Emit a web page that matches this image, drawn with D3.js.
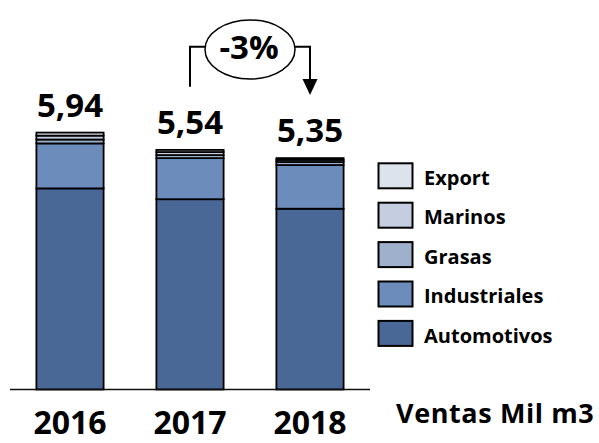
<!DOCTYPE html>
<html>
<head>
<meta charset="utf-8">
<script src="https://cdn.jsdelivr.net/npm/d3@7"></script>
<style>
  body { margin: 0; background: #fff; }
  text { font-family: "Open Sans", sans-serif; font-weight: bold; fill: #000; }
</style>
</head>
<body>
<main></main>
<script>
const years = ["2016", "2017", "2018"];
const automotivos = [4.65, 4.40, 4.18];
const industriales = [1.04, 0.95, 1.01];
const grasas = [0.09, 0.07, 0.07];
const marinos = [0.09, 0.07, 0.05];
const exportes = [0.07, 0.05, 0.04];
const totals = ["5,94", "5,54", "5,35"];
const seriesNames = ["Automotivos", "Industriales", "Grasas", "Marinos", "Export"];
const colors = ["#4a6895", "#6c8cbb", "#9fb0cc", "#c4cee0", "#dde3ec"];
const change = "-3%";
const unitLabel = "Ventas Mil m3";

const drawChart = () => {
    const width = 599, height = 443;

    const svg = d3.select("main").append("svg")
        .attr("width", width)
        .attr("height", height);

    const rows = years.map((y, i) => ({
        year: y,
        Automotivos: automotivos[i],
        Industriales: industriales[i],
        Grasas: grasas[i],
        Marinos: marinos[i],
        Export: exportes[i]
    }));

    const stack = d3.stack().keys(seriesNames);
    const series = stack(rows);

    const xScale = d3.scaleBand().domain(years).range([10, 370])
        .paddingInner(0.44).paddingOuter(0.22);
    const yScale = d3.scaleLinear().domain([0, 6]).range([389.5, 130]);
    const color = d3.scaleOrdinal().domain(seriesNames).range(colors);

    // bars
    svg.append("g")
        .selectAll("g")
        .data(series)
        .enter()
        .append("g")
        .attr("fill", d => color(d.key))
        .selectAll("rect")
        .data(d => d)
        .enter()
        .append("rect")
        .attr("x", d => xScale(d.data.year))
        .attr("y", d => yScale(d[1]))
        .attr("width", xScale.bandwidth())
        .attr("height", d => yScale(d[0]) - yScale(d[1]))
        .attr("stroke", "#000")
        .attr("stroke-width", 1.8);

    // baseline
    svg.append("line")
        .attr("x1", 10).attr("x2", 370)
        .attr("y1", yScale(0)).attr("y2", yScale(0))
        .attr("stroke", "#111")
        .attr("stroke-width", 1.5);

    // totals
    svg.selectAll(".total")
        .data(years)
        .enter()
        .append("text")
        .attr("class", "total")
        .attr("x", d => xScale(d) + xScale.bandwidth() / 2)
        .attr("y", (d, i) => yScale(series[series.length - 1][i][1]) - 16)
        .attr("text-anchor", "middle")
        .attr("font-size", 33)
        .text((d, i) => totals[i]);

    // year labels
    svg.selectAll(".year")
        .data(years)
        .enter()
        .append("text")
        .attr("class", "year")
        .attr("x", d => xScale(d) + xScale.bandwidth() / 2)
        .attr("y", 434)
        .attr("text-anchor", "middle")
        .attr("font-size", 32)
        .text(d => d);

    svg.append("text")
        .attr("x", 396)
        .attr("y", 423)
        .attr("font-size", 27)
        .attr("letter-spacing", 0.6)
        .text(unitLabel);

    // change annotation
    const x1 = xScale("2017") + xScale.bandwidth() / 2,
        x2 = xScale("2018") + xScale.bandwidth() / 2,
        cx = (x1 + x2) / 2,
        ly = 46.7,
        rx = 45, ry = 29.5, cy = 49.5;

    svg.append("path")
        .attr("d", "M" + x1 + ",86.7 V" + ly + " H" + (cx - rx + 1))
        .attr("fill", "none")
        .attr("stroke", "#000")
        .attr("stroke-width", 2);

    svg.append("path")
        .attr("d", "M" + (cx + rx - 1) + "," + ly + " H" + x2 + " V80")
        .attr("fill", "none")
        .attr("stroke", "#000")
        .attr("stroke-width", 2);

    svg.append("path")
        .attr("d", "M" + (x2 - 7.5) + ",79 L" + (x2 + 7.5) + ",79 L" + x2 + ",95 Z")
        .attr("fill", "#000");

    svg.append("ellipse")
        .attr("cx", cx).attr("cy", cy)
        .attr("rx", rx).attr("ry", ry)
        .attr("fill", "#fff")
        .attr("stroke", "#000")
        .attr("stroke-width", 1.5);

    svg.append("text")
        .attr("x", cx - 1)
        .attr("y", 59)
        .attr("text-anchor", "middle")
        .attr("font-size", 33)
        .text(change);

    // legend, top item is Export
    const legend = svg.append("g")
        .selectAll("g")
        .data(seriesNames.slice().reverse())
        .enter()
        .append("g")
        .attr("transform", (d, i) => "translate(378.5," + (163.3 + i * 39.4) + ")");

    legend.append("rect")
        .attr("width", 34)
        .attr("height", 25)
        .attr("fill", d => color(d))
        .attr("stroke", "#000")
        .attr("stroke-width", 2);

    legend.append("text")
        .attr("x", 45.5)
        .attr("y", 21.7)
        .attr("font-size", 20)
        .text(d => d);
}

drawChart();
</script>
</body>
</html>
